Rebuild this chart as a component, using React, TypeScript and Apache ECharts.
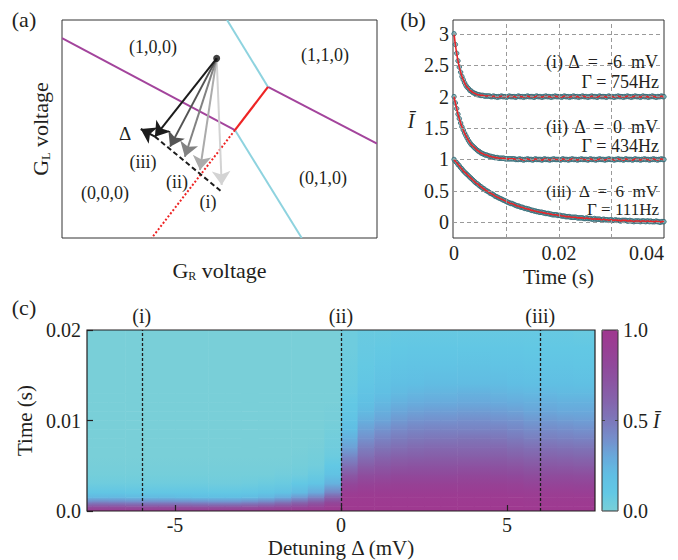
import React, { useEffect, useRef } from 'react';
import * as echarts from 'echarts';

const FONT = "'Liberation Serif', 'Times New Roman', serif";
const INK = '#231f20';

// ---------- (a) charge-stability schematic, normalised gate voltages [GR, GL] ----------
const purpleBoundaries = [
  [[0, 0.917], [0.549, 0.495]],
  [[0.654, 0.693], [1, 0.433]],
];
const cyanBoundaries = [
  [[0.524, 1], [0.654, 0.693]],
  [[0.549, 0.495], [0.761, 0]],
];
const redSolid = [[0.549, 0.495], [0.654, 0.693]];
const redDotted = [[0.549, 0.495], [0.285, 0]];
const pulseStart = [0.491, 0.824];
const pulseTargets = [
  [0.507, 0.243],
  [0.438, 0.312],
  [0.39, 0.373],
  [0.343, 0.419],
  [0.295, 0.465],
];
const pulseShades = ['#d3d3d3', '#ababab', '#828282', '#545454', '#1c1c1c'];
const detuningPath = [[0.295, 0.465], [0.507, 0.212]];
const detuningArrow = [[0.295, 0.465], [0.25, 0.5]];

// ---------- (b) normalised current after the pulse, sampled every 0.25 ms ----------
const sampleStep = 0.00025;
const decayMinus6 = [
  3.0, 2.83, 2.69, 2.57, 2.47, 2.39, 2.32, 2.27, 2.22, 2.18,
  2.15, 2.13, 2.1, 2.09, 2.07, 2.06, 2.05, 2.04, 2.03, 2.03,
  2.02, 2.02, 2.02, 2.01, 2.01, 2.01, 2.01, 2.01, 2.0, 2.0,
  2.01, 2.0, 2.0, 1.99, 2.0, 2.0, 2.01, 2.0, 2.0, 2.0,
  1.99, 2.0, 2.01, 2.0, 2.0, 2.0, 2.0, 1.99, 2.0, 2.01,
  2.0, 2.0, 2.0, 1.99, 2.0, 2.0, 2.01, 2.0, 2.0, 2.0,
  2.0, 1.99, 2.0, 2.01, 2.0, 2.0, 2.0, 1.99, 2.0, 2.0,
  2.01, 2.0, 2.0, 2.0, 1.99, 2.0, 2.0, 2.01, 2.0, 2.0,
  2.0, 2.0, 1.99, 2.0, 2.01, 2.0, 2.0, 2.0, 1.99, 2.0,
  2.0, 2.01, 2.0, 2.0, 2.0, 1.99, 2.0, 2.0, 2.01, 2.0,
  2.0, 2.0, 1.99, 2.0, 2.0, 2.01, 2.0, 2.0, 2.0, 1.99,
  2.0, 2.01, 2.0, 2.0, 2.0, 2.0, 1.99, 2.0, 2.01, 2.0,
  2.0, 2.0, 1.99, 2.0, 2.0, 2.01, 2.0, 2.0, 2.0, 1.99,
  2.0, 2.0, 2.01, 2.0, 2.0, 1.99, 2.0, 2.0, 2.01, 2.0,
  2.0, 2.0, 1.99, 2.0, 2.01, 2.0, 2.0, 2.0, 1.99, 2.0,
  2.0, 2.01, 2.0, 2.0, 1.99, 2.0, 2.0, 2.0, 2.01, 2.0,
  2.0,
];
const decayZero = [
  2.0, 1.9, 1.81, 1.72, 1.65, 1.58, 1.52, 1.47, 1.42, 1.38,
  1.34, 1.3, 1.27, 1.24, 1.22, 1.2, 1.18, 1.16, 1.14, 1.13,
  1.11, 1.1, 1.09, 1.08, 1.07, 1.07, 1.06, 1.05, 1.05, 1.04,
  1.04, 1.03, 1.03, 1.03, 1.02, 1.02, 1.02, 1.02, 1.02, 1.01,
  1.01, 1.01, 1.01, 1.01, 1.01, 1.01, 1.01, 1.0, 1.0, 1.0,
  1.01, 1.0, 1.0, 0.99, 1.0, 1.0, 1.01, 1.0, 1.0, 1.0,
  0.99, 1.0, 1.01, 1.0, 1.0, 1.0, 1.0, 0.99, 1.0, 1.01,
  1.0, 1.0, 1.0, 0.99, 1.0, 1.0, 1.01, 1.0, 1.0, 1.0,
  1.0, 0.99, 1.0, 1.01, 1.0, 1.0, 1.0, 0.99, 1.0, 1.0,
  1.01, 1.0, 1.0, 1.0, 0.99, 1.0, 1.0, 1.01, 1.0, 1.0,
  1.0, 1.0, 0.99, 1.0, 1.01, 1.0, 1.0, 1.0, 0.99, 1.0,
  1.0, 1.01, 1.0, 1.0, 1.0, 0.99, 1.0, 1.0, 1.01, 1.0,
  1.0, 1.0, 0.99, 1.0, 1.0, 1.01, 1.0, 1.0, 1.0, 0.99,
  1.0, 1.01, 1.0, 1.0, 1.0, 1.0, 0.99, 1.0, 1.01, 1.0,
  1.0, 1.0, 0.99, 1.0, 1.0, 1.01, 1.0, 1.0, 1.0, 0.99,
  1.0, 1.0, 1.01, 1.0, 1.0, 0.99, 1.0, 1.0, 1.01, 1.0,
  1.0,
];
const decayPlus6 = [
  1.0, 0.97, 0.95, 0.92, 0.9, 0.87, 0.85, 0.82, 0.8, 0.78,
  0.76, 0.74, 0.72, 0.7, 0.68, 0.66, 0.64, 0.62, 0.61, 0.59,
  0.57, 0.56, 0.54, 0.53, 0.51, 0.5, 0.49, 0.47, 0.46, 0.45,
  0.44, 0.42, 0.41, 0.4, 0.39, 0.38, 0.37, 0.36, 0.35, 0.34,
  0.33, 0.32, 0.31, 0.3, 0.3, 0.29, 0.28, 0.27, 0.26, 0.26,
  0.25, 0.24, 0.24, 0.23, 0.22, 0.22, 0.21, 0.21, 0.2, 0.19,
  0.19, 0.18, 0.18, 0.17, 0.17, 0.16, 0.16, 0.16, 0.15, 0.15,
  0.14, 0.14, 0.14, 0.13, 0.13, 0.12, 0.12, 0.12, 0.12, 0.11,
  0.11, 0.11, 0.1, 0.1, 0.1, 0.09, 0.09, 0.09, 0.09, 0.08,
  0.08, 0.08, 0.08, 0.08, 0.07, 0.07, 0.07, 0.07, 0.07, 0.06,
  0.06, 0.07, 0.06, 0.06, 0.06, 0.05, 0.05, 0.06, 0.05, 0.05,
  0.05, 0.05, 0.04, 0.04, 0.05, 0.04, 0.04, 0.04, 0.03, 0.04,
  0.04, 0.03, 0.03, 0.04, 0.03, 0.03, 0.03, 0.02, 0.03, 0.03,
  0.03, 0.03, 0.02, 0.02, 0.03, 0.02, 0.02, 0.01, 0.02, 0.02,
  0.02, 0.02, 0.01, 0.02, 0.02, 0.02, 0.01, 0.02, 0.02, 0.01,
  0.02, 0.01, 0.01, 0.01, 0.02, 0.01, 0.01, 0.0, 0.01, 0.01,
  0.01,
];
const bYTicks = [0, 0.5, 1, 1.5, 2, 2.5, 3];
const bXGrid = [0.01, 0.02, 0.03];
const bXLabels = [0, 0.02, 0.04];

// ---------- (c) normalised current vs detuning and time ----------
const detuningCentres = [
  -7.75, -7.25, -6.75, -6.25, -5.75, -5.25, -4.75, -4.25, -3.75, -3.25, -2.75, -2.25,
  -1.75, -1.25, -0.75, -0.25, 0.25, 0.75, 1.25, 1.75, 2.25, 2.75, 3.25, 3.75,
  4.25, 4.75, 5.25, 5.75, 6.25, 6.75, 7.25, 7.75,
];
const sampleTimes = [
  0, 0.0005, 0.001, 0.0015, 0.002, 0.003, 0.004, 0.005, 0.006, 0.007,
  0.008, 0.009, 0.01, 0.011, 0.012, 0.013, 0.014, 0.016, 0.018, 0.02,
];
// one list per detuning column: current at each of the sample times
const intensity = [
  [0.95, 0.72, 0.43, 0.23, 0.13, 0.05, 0.02, 0.01, 0, 0, 0, 0, 0, 0, 0, 0, 0, 0, 0, 0],
  [0.95, 0.73, 0.44, 0.23, 0.13, 0.05, 0.02, 0.01, 0, 0, 0, 0, 0, 0, 0, 0, 0, 0, 0, 0],
  [0.95, 0.73, 0.43, 0.23, 0.13, 0.05, 0.02, 0.01, 0, 0, 0, 0, 0, 0, 0, 0, 0, 0, 0, 0],
  [0.95, 0.72, 0.42, 0.22, 0.12, 0.05, 0.02, 0.01, 0, 0, 0, 0, 0, 0, 0, 0, 0, 0, 0, 0],
  [0.95, 0.72, 0.42, 0.22, 0.12, 0.05, 0.02, 0.01, 0, 0, 0, 0, 0, 0, 0, 0, 0, 0, 0, 0],
  [0.95, 0.72, 0.42, 0.22, 0.12, 0.05, 0.02, 0.01, 0, 0, 0, 0, 0, 0, 0, 0, 0, 0, 0, 0],
  [0.95, 0.71, 0.41, 0.21, 0.12, 0.05, 0.02, 0.01, 0, 0, 0, 0, 0, 0, 0, 0, 0, 0, 0, 0],
  [0.95, 0.7, 0.4, 0.2, 0.12, 0.05, 0.02, 0.01, 0, 0, 0, 0, 0, 0, 0, 0, 0, 0, 0, 0],
  [0.95, 0.7, 0.39, 0.2, 0.11, 0.04, 0.02, 0.01, 0, 0, 0, 0, 0, 0, 0, 0, 0, 0, 0, 0],
  [0.95, 0.7, 0.39, 0.2, 0.11, 0.04, 0.02, 0.01, 0, 0, 0, 0, 0, 0, 0, 0, 0, 0, 0, 0],
  [0.95, 0.71, 0.41, 0.21, 0.12, 0.05, 0.02, 0.01, 0, 0, 0, 0, 0, 0, 0, 0, 0, 0, 0, 0],
  [0.96, 0.73, 0.44, 0.24, 0.14, 0.06, 0.02, 0.01, 0, 0, 0, 0, 0, 0, 0, 0, 0, 0, 0, 0],
  [0.96, 0.76, 0.5, 0.29, 0.17, 0.07, 0.03, 0.01, 0, 0, 0, 0, 0, 0, 0, 0, 0, 0, 0, 0],
  [0.97, 0.8, 0.57, 0.36, 0.22, 0.1, 0.04, 0.02, 0.01, 0, 0, 0, 0, 0, 0, 0, 0, 0, 0, 0],
  [0.97, 0.85, 0.66, 0.45, 0.3, 0.14, 0.07, 0.03, 0.02, 0.01, 0, 0, 0, 0, 0, 0, 0, 0, 0, 0],
  [0.98, 0.92, 0.8, 0.62, 0.45, 0.26, 0.16, 0.1, 0.06, 0.04, 0.03, 0.02, 0.01, 0.01, 0, 0, 0, 0, 0, 0],
  [0.99, 0.98, 0.97, 0.96, 0.93, 0.82, 0.68, 0.54, 0.43, 0.33, 0.26, 0.2, 0.15, 0.12, 0.1, 0.08, 0.07, 0.06, 0.05, 0.05],
  [0.99, 0.98, 0.97, 0.96, 0.94, 0.86, 0.76, 0.65, 0.55, 0.47, 0.39, 0.33, 0.27, 0.22, 0.18, 0.15, 0.12, 0.09, 0.08, 0.07],
  [0.99, 0.98, 0.97, 0.96, 0.94, 0.87, 0.78, 0.69, 0.6, 0.52, 0.45, 0.38, 0.32, 0.27, 0.23, 0.19, 0.16, 0.12, 0.09, 0.07],
  [0.99, 0.98, 0.97, 0.96, 0.94, 0.88, 0.8, 0.71, 0.63, 0.55, 0.48, 0.42, 0.36, 0.31, 0.26, 0.22, 0.19, 0.14, 0.1, 0.08],
  [0.99, 0.98, 0.97, 0.96, 0.94, 0.88, 0.8, 0.72, 0.64, 0.57, 0.5, 0.44, 0.38, 0.33, 0.28, 0.24, 0.2, 0.15, 0.11, 0.08],
  [0.99, 0.98, 0.97, 0.96, 0.94, 0.88, 0.8, 0.72, 0.65, 0.58, 0.51, 0.45, 0.39, 0.34, 0.29, 0.25, 0.21, 0.15, 0.11, 0.08],
  [0.99, 0.98, 0.97, 0.96, 0.94, 0.88, 0.8, 0.72, 0.65, 0.58, 0.51, 0.45, 0.39, 0.34, 0.29, 0.25, 0.21, 0.15, 0.11, 0.08],
  [0.99, 0.98, 0.97, 0.96, 0.94, 0.88, 0.81, 0.73, 0.65, 0.58, 0.52, 0.45, 0.4, 0.35, 0.3, 0.26, 0.21, 0.16, 0.11, 0.08],
  [0.99, 0.98, 0.97, 0.96, 0.94, 0.88, 0.81, 0.73, 0.65, 0.58, 0.52, 0.45, 0.4, 0.35, 0.3, 0.26, 0.21, 0.16, 0.11, 0.08],
  [0.99, 0.98, 0.97, 0.96, 0.94, 0.88, 0.8, 0.72, 0.65, 0.58, 0.51, 0.45, 0.39, 0.34, 0.29, 0.25, 0.21, 0.15, 0.11, 0.08],
  [0.99, 0.98, 0.97, 0.96, 0.93, 0.87, 0.79, 0.71, 0.63, 0.56, 0.49, 0.43, 0.38, 0.33, 0.28, 0.24, 0.2, 0.15, 0.11, 0.08],
  [0.98, 0.97, 0.96, 0.95, 0.92, 0.85, 0.77, 0.69, 0.61, 0.54, 0.47, 0.41, 0.36, 0.31, 0.27, 0.23, 0.19, 0.14, 0.1, 0.08],
  [0.98, 0.97, 0.96, 0.95, 0.92, 0.85, 0.77, 0.69, 0.61, 0.54, 0.47, 0.41, 0.36, 0.31, 0.27, 0.23, 0.19, 0.14, 0.1, 0.08],
  [0.98, 0.97, 0.96, 0.95, 0.92, 0.85, 0.77, 0.68, 0.6, 0.53, 0.46, 0.4, 0.35, 0.3, 0.26, 0.22, 0.19, 0.14, 0.1, 0.08],
  [0.98, 0.97, 0.96, 0.95, 0.91, 0.84, 0.76, 0.67, 0.59, 0.52, 0.45, 0.39, 0.34, 0.3, 0.26, 0.22, 0.18, 0.13, 0.1, 0.07],
  [0.98, 0.97, 0.96, 0.95, 0.91, 0.84, 0.76, 0.67, 0.59, 0.52, 0.45, 0.39, 0.34, 0.3, 0.26, 0.22, 0.18, 0.13, 0.1, 0.07],
];
const cuts = [
  { name: '(i)', detuning: -6 },
  { name: '(ii)', detuning: 0 },
  { name: '(iii)', detuning: 6 },
];
const cXTicks = [-5, 0, 5];
const cYTicks = [0, 0.01, 0.02];
const colourTicks = [0, 0.5, 1];
const colourScale = [
  '#79cfd8', '#62c8e4', '#60bee3', '#69a9db', '#758ecb', '#7d78ba',
  '#8465ad', '#8a56a3', '#90499b', '#983f94', '#a0388f',
];

function buildOption() {
  const times = decayMinus6.map((_, i) => i * sampleStep);
  const pts = (vals: number[]) => vals.map((v, i) => [times[i], v]);

  // each cell spans two neighbouring sample times and shades between their values
  const half = (detuningCentres[1] - detuningCentres[0]) / 2;
  const heatData: number[][] = [];
  detuningCentres.forEach((d, c) => {
    for (let r = 0; r < sampleTimes.length - 1; r++) {
      heatData.push([d - half, d + half, sampleTimes[r], sampleTimes[r + 1], intensity[c][r], intensity[c][r + 1]]);
    }
  });
  const shade = (v: number) => echarts.color.lerp(Math.max(0, Math.min(1, v)), colourScale) as string;

  const txt = (text: string, x: number, y: number, size = 18, align = 'center', extra: any = {}) => ({
    type: 'text',
    x,
    y,
    z: 100,
    style: { text, fill: INK, fontSize: size, fontFamily: FONT, align, verticalAlign: 'middle', ...extra },
  });

  const subRich = { sub: { fontSize: 12, fontFamily: FONT, verticalAlign: 'bottom', lineHeight: 24 } };
  const hidden = {
    axisLine: { show: false, onZero: false }, axisTick: { show: false },
    axisLabel: { show: false }, splitLine: { show: false },
  };
  const noLine = { show: false, onZero: false };
  const dotStyle = { color: '#79aeb4', borderColor: '#2c6470', borderWidth: 1 };

  const scatterOf = (vals: number[]) => ({
    type: 'scatter', xAxisIndex: 1, yAxisIndex: 1, z: 3, symbolSize: 4.5,
    itemStyle: dotStyle, data: pts(vals),
  });
  const fitOf = (vals: number[]) => ({
    type: 'line', xAxisIndex: 1, yAxisIndex: 1, z: 4, smooth: 0.3, showSymbol: false,
    lineStyle: { color: '#e8262a', width: 1.6 }, data: pts(vals),
  });
  const segment = (coords: number[][], color: string, width: number, type: any = 'solid') => ({
    coords,
    lineStyle: { color, width, type, opacity: 1 },
    itemStyle: { color },
  });

  return {
    animation: false,
    textStyle: { fontFamily: FONT, color: INK },
    grid: [
      { left: 62, top: 20, width: 315, height: 218, show: true, borderColor: '#333', borderWidth: 1 },
      { left: 453, top: 20, width: 211, height: 218, show: true, borderColor: '#333', borderWidth: 1 },
      { left: 87, top: 330, width: 508, height: 181 },
      { left: 602, top: 330, width: 16, height: 181 },
    ],
    xAxis: [
      {
        gridIndex: 0, type: 'value', min: 0, max: 1, ...hidden,
        name: 'G{sub|R} voltage', nameLocation: 'middle', nameGap: 20,
        nameTextStyle: { fontSize: 22, fontFamily: FONT, color: INK, lineHeight: 24, rich: subRich },
      },
      {
        gridIndex: 1, type: 'value', min: -0.0002, max: 0.04,
        axisLine: noLine, axisTick: { show: false }, splitLine: { show: false },
        axisLabel: { customValues: bXLabels, fontSize: 20, fontFamily: FONT, color: INK, margin: 5, alignMaxLabel: 'right' },
        name: 'Time (s)', nameLocation: 'middle', nameGap: 28,
        nameTextStyle: { fontSize: 21, fontFamily: FONT, color: INK },
      },
      {
        gridIndex: 2, type: 'value', min: -7.65, max: 7.65, z: 10,
        axisLine: noLine, splitLine: { show: false },
        axisTick: { show: true, inside: true, length: 6, customValues: cXTicks, lineStyle: { color: INK, width: 1.2 } },
        axisLabel: { customValues: cXTicks, fontSize: 20, fontFamily: FONT, color: INK, margin: 4 },
        name: 'Detuning Δ (mV)', nameLocation: 'middle', nameGap: 26,
        nameTextStyle: { fontSize: 21, fontFamily: FONT, color: INK },
      },
      { gridIndex: 3, type: 'value', min: 0, max: 1, ...hidden },
    ],
    yAxis: [
      {
        gridIndex: 0, type: 'value', min: 0, max: 1, ...hidden,
        name: 'G{sub|L} voltage', nameLocation: 'middle', nameGap: 10,
        nameTextStyle: { fontSize: 22, fontFamily: FONT, color: INK, lineHeight: 24, rich: subRich },
      },
      {
        gridIndex: 1, type: 'value', min: -0.25, max: 3.22,
        axisLine: noLine, axisTick: { show: false }, splitLine: { show: false },
        axisLabel: { customValues: bYTicks, fontSize: 20, fontFamily: FONT, color: INK, margin: 4 },
      },
      {
        gridIndex: 2, type: 'value', min: 0, max: 0.02, z: 10,
        axisLine: noLine, splitLine: { show: false },
        axisTick: { show: true, inside: true, length: 6, customValues: cYTicks, lineStyle: { color: INK, width: 1.2 } },
        axisLabel: {
          customValues: cYTicks, fontSize: 20, fontFamily: FONT, color: INK, margin: 6,
          formatter: (v: number) => (v === 0 ? '0.0' : String(v)),
        },
        name: 'Time (s)', nameLocation: 'middle', nameGap: 52,
        nameTextStyle: { fontSize: 21, fontFamily: FONT, color: INK },
      },
      {
        gridIndex: 3, type: 'value', min: 0, max: 1, position: 'right', z: 10,
        axisLine: noLine, splitLine: { show: false },
        axisTick: { show: true, inside: true, length: 3, customValues: [0.5], lineStyle: { color: '#444', width: 1 } },
        axisLabel: {
          customValues: colourTicks, fontSize: 20, fontFamily: FONT, color: INK, margin: 5,
          formatter: (v: number) => (v === 0.5 ? '0.5 {i|Ī}' : v.toFixed(1)),
          rich: { i: { fontSize: 20, fontFamily: FONT, fontStyle: 'italic', color: INK } },
        },
      },
      {
        gridIndex: 3, type: 'value', min: 0, max: 1, position: 'left', z: 10,
        axisLine: noLine, splitLine: { show: false }, axisLabel: { show: false },
        axisTick: { show: true, inside: true, length: 3, customValues: [0.5], lineStyle: { color: '#444', width: 1 } },
      },
    ],
    visualMap: {
      type: 'continuous', seriesIndex: 12, dimension: 4, min: 0, max: 1,
      orient: 'vertical', left: 602, top: 330, itemWidth: 16, itemHeight: 181,
      padding: 0, calculable: false, hoverLink: false, text: null,
      inRange: { color: colourScale },
    },
    series: [
      // 0: state boundaries
      {
        type: 'lines', coordinateSystem: 'cartesian2d', xAxisIndex: 0, yAxisIndex: 0, z: 2,
        symbol: 'none',
        data: [
          ...purpleBoundaries.map((c) => segment(c, '#a3449c', 2)),
          ...cyanBoundaries.map((c) => segment(c, '#8ed3df', 2)),
          segment(redSolid, '#ee2424', 2.2),
          segment(redDotted, '#ee2424', 2, [2, 2]),
        ],
      },
      // 1: pulses
      {
        type: 'lines', coordinateSystem: 'cartesian2d', xAxisIndex: 0, yAxisIndex: 0, z: 3,
        symbol: ['none', 'arrow'], symbolSize: 14,
        data: pulseTargets.map((t, i) => segment([pulseStart, t], pulseShades[i], 2)),
      },
      // 2: detuning axis
      {
        type: 'lines', coordinateSystem: 'cartesian2d', xAxisIndex: 0, yAxisIndex: 0, z: 2,
        symbol: 'none',
        data: [segment(detuningPath, '#1c1c1c', 2, [5, 3])],
      },
      // 3: detuning direction arrow
      {
        type: 'lines', coordinateSystem: 'cartesian2d', xAxisIndex: 0, yAxisIndex: 0, z: 3,
        symbol: ['none', 'arrow'], symbolSize: 14,
        data: [segment(detuningArrow, '#1c1c1c', 2)],
      },
      // 4: starting point
      {
        type: 'scatter', xAxisIndex: 0, yAxisIndex: 0, z: 4, symbolSize: 7,
        itemStyle: { color: '#111' }, data: [pulseStart],
      },
      // 5: dashed grid of (b)
      {
        type: 'line', xAxisIndex: 1, yAxisIndex: 1, z: 1, data: [],
        markLine: {
          silent: true, symbol: 'none', label: { show: false },
          lineStyle: { color: '#9a9a9a', width: 1, type: [4, 3] },
          data: [...bYTicks.map((v) => ({ yAxis: v })), ...bXGrid.map((v) => ({ xAxis: v }))],
        },
      },
      // 6-8: measured points
      scatterOf(decayMinus6),
      scatterOf(decayZero),
      scatterOf(decayPlus6),
      // 9-11: fits
      fitOf(decayMinus6),
      fitOf(decayZero),
      fitOf(decayPlus6),
      // 12: map of (c)
      {
        type: 'custom', xAxisIndex: 2, yAxisIndex: 2, z: 2,
        encode: { x: [0, 1], y: [2, 3] },
        data: heatData,
        renderItem: (params: any, api: any) => {
          const a = api.coord([api.value(0), api.value(3)]);
          const b = api.coord([api.value(1), api.value(2)]);
          const cs = params.coordSys;
          const shape = echarts.graphic.clipRectByRect(
            { x: a[0], y: a[1] - 0.3, width: b[0] - a[0] + 0.6, height: b[1] - a[1] + 0.6 },
            { x: cs.x, y: cs.y, width: cs.width, height: cs.height },
          );
          if (!shape) return null;
          const fill = new echarts.graphic.LinearGradient(0, 1, 0, 0, [
            { offset: 0, color: shade(api.value(4)) },
            { offset: 1, color: shade(api.value(5)) },
          ]);
          return { type: 'rect', shape, style: { fill } };
        },
      },
      // 13: cut positions in (c)
      {
        type: 'line', xAxisIndex: 2, yAxisIndex: 2, z: 5, data: [],
        markLine: {
          silent: true, symbol: 'none',
          lineStyle: { color: '#1c1c1c', width: 1.3, type: [3, 2] },
          label: {
            show: true, position: 'end', distance: 4, formatter: '{b}',
            fontSize: 20, fontFamily: FONT, color: INK,
          },
          data: cuts.map((c) => ({ name: c.name, xAxis: c.detuning })),
        },
      },
    ],
    graphic: [
      txt('(a)', 24, 19, 22),
      txt('(b)', 413, 19, 22),
      txt('(c)', 24, 307, 22),
      // (a) charge states and pulse labels
      txt('(1,0,0)', 153, 47),
      txt('(1,1,0)', 325, 55),
      txt('(0,0,0)', 105, 193),
      txt('(0,1,0)', 323, 178),
      txt('(iii)', 143, 162),
      txt('(ii)', 177, 182),
      txt('(i)', 208, 202),
      txt('Δ', 125, 133, 19),
      // (b) annotations
      txt('Ī', 411, 121, 20, 'center', { fontStyle: 'italic' }),
      txt('(i)', 546, 62, 18, 'left'),
      txt('Δ  =  -6  mV', 658, 62, 18, 'right'),
      txt('Γ = 754Hz', 659, 82, 18, 'right'),
      txt('(ii)', 546, 127, 18, 'left'),
      txt('Δ  =  0  mV', 658, 127, 18, 'right'),
      txt('Γ = 434Hz', 659, 146, 18, 'right'),
      txt('(iii)', 546, 191, 17, 'left'),
      txt('Δ  =  6  mV', 658, 191, 17, 'right'),
      txt('Γ = 111Hz', 659, 209, 17, 'right'),
      // frames of (c) and its colour bar
      {
        type: 'rect', z: 100, shape: { x: 87, y: 330, width: 508, height: 181 },
        style: { fill: 'none', stroke: INK, lineWidth: 1.2 },
      },
      {
        type: 'rect', z: 100, shape: { x: 602, y: 330, width: 16, height: 181 },
        style: { fill: 'none', stroke: '#333', lineWidth: 1 },
      },
    ],
  };
}

export default function App() {
  const ref = useRef<HTMLDivElement>(null);
  useEffect(() => {
    document.body.style.margin = '0';
    const chart = echarts.init(ref.current!, null, { renderer: 'svg' });
    chart.setOption(buildOption() as any);
    return () => chart.dispose();
  }, []);
  return <div ref={ref} style={{ width: 678, height: 560, background: '#fff' }} />;
}
